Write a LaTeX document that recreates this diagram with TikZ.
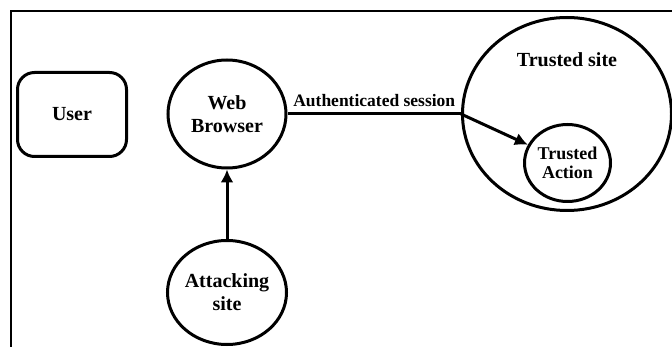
\documentclass[tikz,border=0pt]{standalone}
\usepackage{fontspec}
\setmainfont{Liberation Serif}
\usetikzlibrary{shapes.geometric,arrows.meta}
\begin{document}
\begin{tikzpicture}[x=1pt,y=-1pt,
  outline/.style={draw, line width=3pt},
  bigtext/.style={font=\fontsize{20}{23}\selectfont\bfseries},
  ovalnode/.style={outline, ellipse, inner sep=-8pt, align=center, bigtext},
  conn/.style={line width=3pt},
  tip/.style={-{Latex[length=13pt,width=13pt]}}
]
\useasboundingbox (0,0) rectangle (672,347);
\clip (0,0) rectangle (672,347);
% frame
\draw[line width=2pt] (11,349) -- (11,11) -- (674,11);
% nodes
\node[outline, rounded corners=17pt, minimum width=109pt, minimum height=84pt, bigtext] (user) at (72,114.5) {User};
\node[ovalnode, minimum width=118pt, minimum height=108pt] (wb) at (227,114) {Web\\Browser};
\node[ovalnode, minimum width=119pt, minimum height=104pt] (att) at (227,292.5) {Attacking\\site};
\node[outline, ellipse, inner sep=0pt, minimum width=209pt, minimum height=193pt] (ts) at (567,114) {};
\node[bigtext, inner sep=0pt] (tslabel) at (567,60) {Trusted site};
\node[ovalnode, minimum width=86pt, minimum height=77pt, font=\fontsize{18}{19}\selectfont\bfseries] (ta) at (567.5,163) {Trusted\\Action};
% connectors
\draw[conn] (wb) -- node[anchor=base, yshift=7pt, inner sep=0pt, font=\fontsize{17.5}{20}\selectfont\bfseries] (authlabel) {Authenticated session} (ts.west);
\draw[conn, tip] (ts.west) -- (ta);
\draw[conn, tip] (att) -- (wb);
\end{tikzpicture}
\end{document}
